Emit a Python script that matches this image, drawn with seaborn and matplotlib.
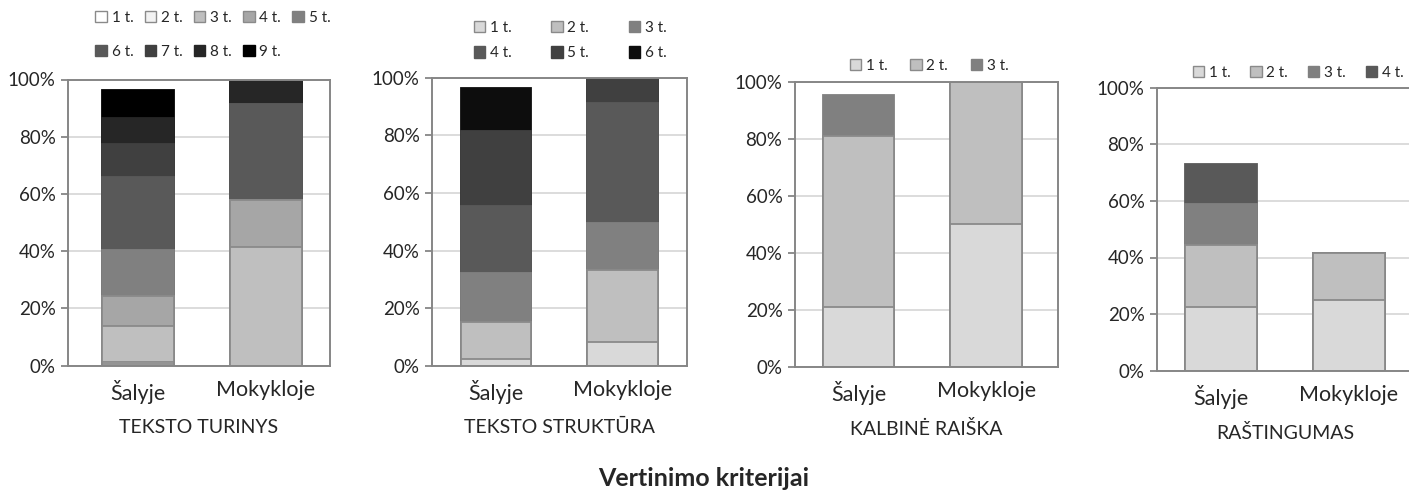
import numpy as np
import pandas as pd
import matplotlib
matplotlib.use("Agg")
import matplotlib.pyplot as plt
import seaborn as sns
from matplotlib.patches import Patch

sns.set_style("white")
plt.rcParams['font.family'] = ['Lato', 'DejaVu Sans']

groups = ['Šalyje', 'Mokykloje']

# TEKSTO TURINYS (1 t. ... 9 t.), percentages
turinys_labels = ['1 t.', '2 t.', '3 t.', '4 t.', '5 t.', '6 t.', '7 t.', '8 t.', '9 t.']
turinys_salyje = [0.5, 0.9, 12.4, 10.5, 16.1, 25.6, 11.4, 9.1, 9.8]
turinys_mokykloje = [0, 0, 41.6, 16.4, 0, 33.3, 0, 8.7, 0]
turinys_colors = ['#ffffff', '#f2f2f2', '#bfbfbf', '#a6a6a6', '#808080',
                  '#595959', '#404040', '#262626', '#000000']

# TEKSTO STRUKTŪRA (1 t. ... 6 t.)
struktura_labels = ['1 t.', '2 t.', '3 t.', '4 t.', '5 t.', '6 t.']
struktura_salyje = [2.2, 13.1, 17.0, 23.1, 26.2, 14.7]
struktura_mokykloje = [8.3, 24.9, 16.5, 41.6, 8.7, 0]
struktura_colors = ['#d9d9d9', '#bfbfbf', '#808080', '#595959', '#404040', '#0d0d0d']

# KALBINĖ RAIŠKA (1 t. ... 3 t.)
raiska_labels = ['1 t.', '2 t.', '3 t.']
raiska_salyje = [20.9, 60.1, 14.3]
raiska_mokykloje = [50.0, 50.0, 0]
raiska_colors = ['#d9d9d9', '#bfbfbf', '#808080']

# RAŠTINGUMAS (1 t. ... 4 t.)
rastingumas_labels = ['1 t.', '2 t.', '3 t.', '4 t.']
rastingumas_salyje = [22.4, 21.9, 14.7, 13.9]
rastingumas_mokykloje = [25.0, 16.7, 0, 0]
rastingumas_colors = ['#d9d9d9', '#bfbfbf', '#808080', '#595959']

titles = ['TEKSTO TURINYS', 'TEKSTO STRUKTŪRA', 'KALBINĖ RAIŠKA', 'RAŠTINGUMAS']

panels = [
    (turinys_labels, turinys_salyje, turinys_mokykloje, turinys_colors),
    (struktura_labels, struktura_salyje, struktura_mokykloje, struktura_colors),
    (raiska_labels, raiska_salyje, raiska_mokykloje, raiska_colors),
    (rastingumas_labels, rastingumas_salyje, rastingumas_mokykloje, rastingumas_colors),
]

# axes placement in pixels: left, right, top, bottom
W, H = 1409, 492
boxes = [(68, 330, 79.5, 365.7), (432, 687, 77.7, 365.7),
         (795, 1058, 81.7, 366.7), (1157, 1413, 87.7, 370.7)]
xlims = [(-0.545, 1.502), (-0.506, 1.511), (-0.497, 1.562), (-0.5, 1.5)]
leg_cfg = [  # ncol, x, y (axes frac), columnspacing, labelspacing
    (5, 0.553, 1.155, 0.75, 1.3),
    (3, 0.541, 1.129, 2.6, 0.75),
    (3, 0.51, 1.055, 1.5, 0.5),
    (4, 0.551, 1.052, 1.3, 0.5),
]

spine_col = '#868686'
edge_col = '#8a8a8a'
light = {'#ffffff', '#f2f2f2', '#d9d9d9', '#bfbfbf', '#a6a6a6'}


def row_major(items, ncol):
    # matplotlib fills legend columns first; reorder so rows read left to right
    nrow = int(np.ceil(len(items) / ncol))
    out = []
    for c in range(ncol):
        for r in range(nrow):
            k = r * ncol + c
            if k < len(items):
                out.append(items[k])
    return out


fig = plt.figure(figsize=(W / 100, H / 100), dpi=100)

for i, (labels, sal, mok, colors) in enumerate(panels):
    l, r, t, b = boxes[i]
    ax = fig.add_axes([l / W, 1 - b / H, (r - l) / W, (b - t) / H])
    ax.set_axisbelow(True)
    ax.yaxis.grid(True, color='#d9d9d9', linewidth=1.3)

    df = pd.DataFrame({'group': groups * len(labels),
                       'series': np.repeat(labels, 2),
                       'value': np.ravel(np.column_stack([sal, mok]))})
    df['cum'] = df.groupby('group')['value'].cumsum()

    # draw the cumulative totals from the top series down
    for lab, col in reversed(list(zip(labels, colors))):
        sub = df[df['series'] == lab]
        ec = edge_col if col in light else col
        sns.barplot(data=sub, x='group', y='cum', order=groups, color=col,
                    saturation=1, width=0.56, edgecolor=ec, linewidth=1.3,
                    ax=ax, errorbar=None)

    ax.set_ylim(0, 100)
    ax.set_xlim(*xlims[i])
    ax.set_yticks(np.arange(0, 101, 20))
    ax.set_yticklabels([f'{v}%' for v in range(0, 101, 20)])
    ax.tick_params(axis='y', length=5, width=1.3, color=spine_col, labelsize=13.5,
                   pad=4, direction='out', left=True)
    ax.tick_params(axis='x', length=0, labelsize=15.5, pad=10)
    ax.set_ylabel('')
    ax.set_xlabel(titles[i], fontsize=14, labelpad=11)
    for s in ax.spines.values():
        s.set_color(spine_col)
        s.set_linewidth(1.4)

    handles = [Patch(facecolor=c, edgecolor=edge_col if c in light else c,
                     linewidth=1.0, label=lab) for lab, c in zip(labels, colors)]
    ncol, lx, ly, cs, ls = leg_cfg[i]
    ax.legend(handles=row_major(handles, ncol), ncol=ncol, loc='center',
              bbox_to_anchor=(lx, ly), frameon=False, fontsize=11,
              handlelength=0.75, handleheight=0.75, handletextpad=0.3,
              columnspacing=cs, labelspacing=ls, borderaxespad=0, borderpad=0)

fig.text(704 / W, 1 - 478 / H, 'Vertinimo kriterijai', ha='center', va='center',
         fontsize=18, fontweight='bold')

fig.savefig('out.png', dpi=100)
